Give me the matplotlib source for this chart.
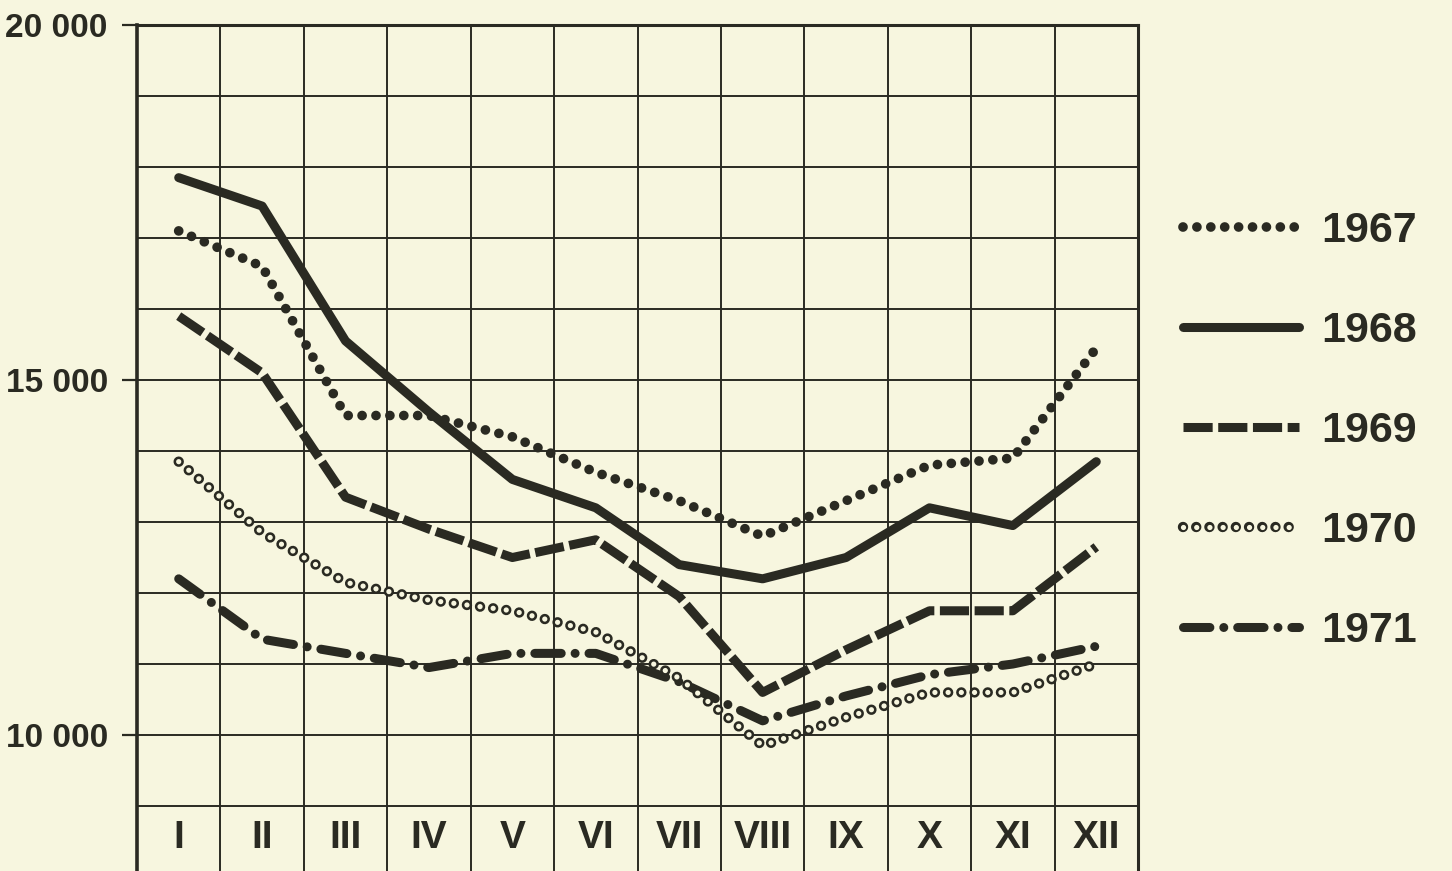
import numpy as np
import matplotlib
matplotlib.use('Agg')
import matplotlib.pyplot as plt
from matplotlib import font_manager
from matplotlib.legend_handler import HandlerTuple

# monthly values (Roman numerals as in the original)
months = ['I', 'II', 'III', 'IV', 'V', 'VI', 'VII', 'VIII', 'IX', 'X', 'XI', 'XII']
years = ['1967', '1968', '1969', '1970', '1971']

v1967 = [17100, 16600, 14500, 14500, 14200, 13700, 13300, 12800, 13300, 13800, 13900, 15450]
v1968 = [17850, 17450, 15550, 14550, 13600, 13200, 12400, 12200, 12500, 13200, 12950, 13850]
v1969 = [15900, 15100, 13350, 12900, 12500, 12750, 11950, 10600, 11200, 11750, 11750, 12650]
v1970 = [13850, 12850, 12150, 11900, 11750, 11450, 10800, 9850, 10250, 10600, 10600, 11000]
v1971 = [12200, 11350, 11150, 10950, 11150, 11150, 10750, 10200, 10550, 10850, 11000, 11250]

paper = '#f7f6df'
ink = '#2a2a22'

installed = {f.name for f in font_manager.fontManager.ttflist}
main_font = 'Liberation Sans' if 'Liberation Sans' in installed else 'DejaVu Sans'
plt.rcParams['font.family'] = main_font
plt.rcParams['lines.scale_dashes'] = False

fig = plt.figure(figsize=(14.52, 8.71), dpi=100, facecolor=paper)
ax = fig.add_axes([137 / 1452, 0, 1001 / 1452, 846 / 871])
ax.set_facecolor(paper)

x = np.arange(1, len(months) + 1)

l67, = ax.plot(x, v1967, color=ink, lw=7, linestyle=(0, (0.01, 10)),
               dash_capstyle='round', zorder=3)
l68, = ax.plot(x, v1968, color=ink, lw=6.5, solid_capstyle='round',
               solid_joinstyle='round', zorder=3)
l69, = ax.plot(x, v1969, color=ink, lw=6.5, linestyle=(0, (21, 4)),
               dash_capstyle='butt', zorder=3)
# open circles: dark dots with a paper-coloured core
l70a, = ax.plot(x, v1970, color=ink, lw=7.5, linestyle=(0, (0.01, 9.5)),
                dash_capstyle='round', zorder=3)
l70b, = ax.plot(x, v1970, color=paper, lw=3.8, linestyle=(0, (0.01, 9.5)),
                dash_capstyle='round', zorder=4)
l71, = ax.plot(x, v1971, color=ink, lw=6.5, linestyle=(0, (19, 10, 0.01, 10)),
               dash_capstyle='round', zorder=3)

ax.set_xlim(0.5, len(months) + 0.5)
ax.set_ylim(8085, 20000)

# column borders and 1000-step rows
ax.set_xticks(np.arange(0.5, len(months) + 1, 1))
ax.tick_params(axis='x', length=0, labelbottom=False)
ax.set_yticks([10000, 15000, 20000], labels=['10 000', '15 000', '20 000'])
ax.set_yticks(np.arange(9000, 20001, 1000), minor=True)
ax.tick_params(axis='y', which='major', length=11, width=1.6, pad=10,
               labelsize=24, color=ink, labelcolor=ink)
ax.tick_params(axis='y', which='minor', length=0)
for lbl in ax.get_yticklabels():
    lbl.set_fontweight('bold')
ax.grid(True, which='both', color=ink, lw=1.4, zorder=1)
ax.set_axisbelow(True)

ax.spines['bottom'].set_visible(False)
ax.spines['left'].set_linewidth(2.6)
ax.spines['top'].set_linewidth(2.2)
ax.spines['right'].set_linewidth(2.2)
for s in ax.spines.values():
    s.set_color(ink)

# month names in the bottom row
for xi, m in zip(x, months):
    ax.text(xi, 8550, m, ha='center', va='center', fontsize=28,
            fontweight='bold', color=ink)

fig.legend([l67, l68, l69, (l70a, l70b), l71], years,
           handler_map={tuple: HandlerTuple(ndivide=1, pad=0)},
           loc='center left', bbox_to_anchor=(1183 / 1452, 0.505),
           frameon=False, prop={'size': 31, 'weight': 'bold'},
           handlelength=2.7, handletextpad=0.5, labelspacing=1.39,
           borderpad=0, borderaxespad=0, labelcolor=ink)

fig.savefig('out.png', dpi=100, facecolor=paper)
